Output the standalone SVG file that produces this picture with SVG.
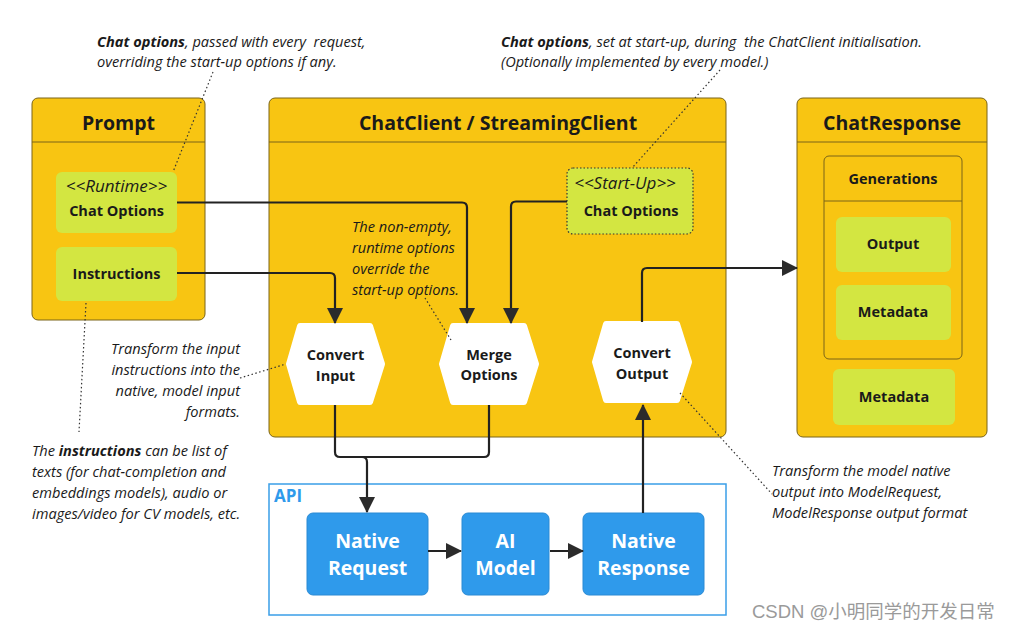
<svg xmlns="http://www.w3.org/2000/svg" width="1017" height="630" viewBox="0 0 1017 630">
<style>
text{font-family:"Open Sans","Noto Sans","Liberation Sans",sans-serif;fill:#1a1a1a}
.box{fill:#F8C512;stroke:#7a6418;stroke-width:1}
.hdr{stroke:#7a6418;stroke-width:1}
.lime{fill:#D3E641}
.title{font-size:19.5px;font-weight:700;text-anchor:middle}
.lbl{font-size:14.5px;font-weight:700;text-anchor:middle}
.it{font-size:14.6px;font-style:italic;white-space:pre}
.st{font-size:17px;font-style:italic;text-anchor:middle}
.hex{fill:#fff;stroke:#fff;stroke-width:6;stroke-linejoin:round}
.blue{fill:#2F9AEB;stroke:#2a8ad4;stroke-width:1}
.wl{font-size:19.5px;font-weight:700;fill:#fff;text-anchor:middle}
.con{fill:none;stroke:#222;stroke-width:2.2;stroke-linejoin:round}
.dot{fill:none;stroke:#333;stroke-width:1.2;stroke-dasharray:1.5 2.5}
</style>
<defs>
<marker id="ah" markerUnits="userSpaceOnUse" markerWidth="16" markerHeight="16" viewBox="0 0 16 16" refX="15" refY="8" orient="auto">
<path d="M0,0 L16,8 L0,16 Z" fill="#2b2b2b"/>
</marker>
</defs>

<g id="prompt">
<rect class="box" x="32" y="98" width="173" height="222" rx="6"/>
<line class="hdr" x1="32" y1="142" x2="205" y2="142"/>
<text class="title" x="118.5" y="130">Prompt</text>
</g>
<g id="runtime-options">
<rect class="lime" x="56" y="172" width="121" height="61" rx="6"/>
<text class="st" x="116.5" y="192">&lt;&lt;Runtime&gt;&gt;</text>
<text class="lbl" x="116.5" y="216">Chat Options</text>
</g>
<g id="instructions">
<rect class="lime" x="56" y="247" width="121" height="54" rx="6"/>
<text class="lbl" x="116.5" y="279">Instructions</text>
</g>

<g id="chatclient">
<rect class="box" x="269" y="98" width="457" height="339" rx="6"/>
<line class="hdr" x1="269" y1="142" x2="726" y2="142"/>
<text class="title" x="498" y="130">ChatClient / StreamingClient</text>
</g>
<g id="startup-options">
<rect class="lime" x="567" y="168" width="126" height="66" rx="6" stroke="#333" stroke-width="1.2" stroke-dasharray="1.5 2"/>
<text class="st" x="625" y="189">&lt;&lt;Start-Up&gt;&gt;</text>
<text class="lbl" x="631" y="216">Chat Options</text>
</g>
<g id="convert-input">
<path class="hex" d="M289,364 L300,326 L370,326 L382,364 L370,402 L300,402 Z"/>
<text class="lbl" x="335.5" y="360">Convert</text>
<text class="lbl" x="335.5" y="381">Input</text>
</g>
<g id="merge-options">
<path class="hex" d="M442,364 L453,326 L524,326 L536,364 L524,402 L453,402 Z"/>
<text class="lbl" x="489" y="360">Merge</text>
<text class="lbl" x="489" y="380">Options</text>
</g>
<g id="convert-output">
<path class="hex" d="M595,362 L606,324 L677,324 L689,362 L677,400 L606,400 Z"/>
<text class="lbl" x="642" y="358">Convert</text>
<text class="lbl" x="642" y="379">Output</text>
</g>

<g id="chatresponse">
<rect class="box" x="797" y="98" width="190" height="339" rx="6"/>
<line class="hdr" x1="797" y1="142" x2="987" y2="142"/>
<text class="title" x="892" y="130">ChatResponse</text>
</g>
<g id="generations">
<rect class="box" x="824" y="156" width="138" height="203" rx="5"/>
<line class="hdr" x1="824" y1="201" x2="962" y2="201"/>
<text class="lbl" x="893" y="184">Generations</text>
</g>
<g id="output">
<rect class="lime" x="836" y="217" width="115" height="55" rx="6"/>
<text class="lbl" x="893" y="249">Output</text>
</g>
<g id="gen-metadata">
<rect class="lime" x="836" y="285" width="115" height="55" rx="6"/>
<text class="lbl" x="893" y="317">Metadata</text>
</g>
<g id="metadata">
<rect class="lime" x="833" y="369" width="122" height="56" rx="6"/>
<text class="lbl" x="894" y="402">Metadata</text>
</g>

<g id="api">
<rect x="269" y="484" width="457" height="131" fill="#fff" stroke="#3a9ee8" stroke-width="1.5"/>
<text x="274" y="502" font-size="17" font-weight="700" style="fill:#2F9AEB">API</text>
</g>
<g id="native-request">
<rect class="blue" x="307" y="513" width="121" height="82" rx="6"/>
<text class="wl" x="367.5" y="548">Native</text>
<text class="wl" x="367.5" y="575">Request</text>
</g>
<g id="ai-model">
<rect class="blue" x="462" y="513" width="87" height="82" rx="6"/>
<text class="wl" x="505.5" y="548">AI</text>
<text class="wl" x="505.5" y="575">Model</text>
</g>
<g id="native-response">
<rect class="blue" x="583" y="513" width="121" height="82" rx="6"/>
<text class="wl" x="643.5" y="548">Native</text>
<text class="wl" x="643.5" y="575">Response</text>
</g>

<g id="connectors">
<path class="con" d="M177,202.5 H462 Q467,202.5 467,207.5 V323" marker-end="url(#ah)"/>
<path class="con" d="M177,273 H330 Q335,273 335,278 V323" marker-end="url(#ah)"/>
<path class="con" d="M567,201.5 H516 Q511,201.5 511,206.5 V323" marker-end="url(#ah)"/>
<path class="con" d="M642,322 V273 Q642,268 647,268 H797" marker-end="url(#ah)"/>
<path class="con" d="M335,405 V452 Q335,457 340,457 H484 Q489,457 489,452 V405"/>
<path class="con" d="M362,457 Q367,457 367,462 V512" marker-end="url(#ah)"/>
<path class="con" d="M643,513 V405" marker-end="url(#ah)"/>
<path class="con" d="M428,551 H461" marker-end="url(#ah)"/>
<path class="con" d="M550,551 H583" marker-end="url(#ah)"/>
</g>

<g id="annotations">
<text class="it" x="97" y="47"><tspan font-weight="700">Chat options</tspan>, passed with every  request,</text>
<text class="it" x="97" y="67">overriding the start-up options if any.</text>
<path class="dot" d="M213,72 L173,172"/>

<text class="it" x="501" y="47"><tspan font-weight="700">Chat options</tspan>, set at start-up, during  the ChatClient initialisation.</text>
<text class="it" x="501" y="67">(Optionally implemented by every model.)</text>
<path class="dot" d="M720,70 L632,168"/>

<text class="it" x="352" y="232">The non-empty,</text>
<text class="it" x="352" y="253">runtime options</text>
<text class="it" x="352" y="274">override the</text>
<text class="it" x="352" y="295">start-up options.</text>
<path class="dot" d="M425,298 L451,340"/>

<text class="it" text-anchor="end" x="240" y="354">Transform the input</text>
<text class="it" text-anchor="end" x="240" y="375">instructions into the</text>
<text class="it" text-anchor="end" x="240" y="396">native, model input</text>
<text class="it" text-anchor="end" x="240" y="417">formats.</text>
<path class="dot" d="M240,378 L286,364"/>

<path class="dot" d="M86,303 L79,432"/>
<text class="it" x="32" y="456">The <tspan font-weight="700">instructions</tspan> can be list of</text>
<text class="it" x="32" y="477">texts (for chat-completion and</text>
<text class="it" x="32" y="498">embeddings models), audio or</text>
<text class="it" x="32" y="519">images/video for CV models, etc.</text>

<text class="it" x="772" y="476">Transform the model native</text>
<text class="it" x="772" y="497">output into ModelRequest,</text>
<text class="it" x="772" y="518">ModelResponse output format</text>
<path class="dot" d="M680,393 L772,494"/>

<text x="752" y="618" font-size="18.5" style="fill:#9a9a9a;font-family:'Liberation Sans','Noto Sans CJK SC',sans-serif">CSDN @小明同学的开发日常</text>
</g>
</svg>
